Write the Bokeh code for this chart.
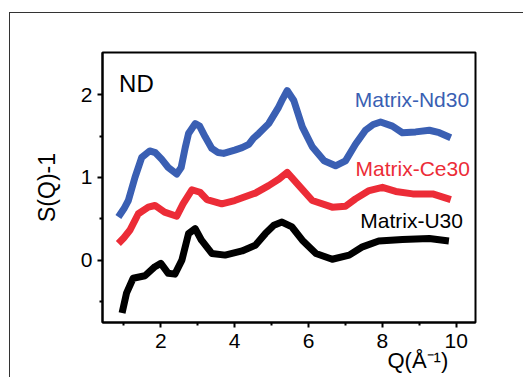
from bokeh.plotting import figure
from bokeh.models import Range1d, FixedTicker, Label, LinearAxis, InlineStyleSheet
from bokeh.embed import file_html
from bokeh.resources import INLINE

# Matrix-Nd30 (blue)
q_nd = [0.85, 1.0, 1.12, 1.3, 1.48, 1.7, 1.85, 2.02, 2.2, 2.43, 2.55, 2.66, 2.75, 2.93, 3.05,
        3.2, 3.38, 3.55, 3.7, 4.0, 4.2, 4.38, 4.5, 4.65, 4.92, 5.19, 5.3, 5.42, 5.6, 5.83,
        6.1, 6.42, 6.73, 7.0, 7.27, 7.54, 7.75, 7.95, 8.27, 8.54, 8.9, 9.27, 9.54, 9.85]
s_nd = [0.52, 0.62, 0.72, 1.0, 1.24, 1.32, 1.30, 1.22, 1.12, 1.04, 1.12, 1.36, 1.53, 1.65, 1.62,
        1.49, 1.35, 1.30, 1.29, 1.33, 1.36, 1.40, 1.47, 1.53, 1.65, 1.85, 1.95, 2.05, 1.93, 1.61,
        1.37, 1.20, 1.14, 1.20, 1.40, 1.57, 1.64, 1.67, 1.62, 1.54, 1.55, 1.57, 1.54, 1.48]

# Matrix-Ce30 (red)
q_ce = [0.85, 1.0, 1.16, 1.39, 1.66, 1.84, 2.1, 2.43, 2.6, 2.84, 3.06, 3.25, 3.65, 4.0, 4.56,
        4.92, 5.2, 5.42, 5.74, 6.1, 6.64, 7.0, 7.27, 7.64, 8.0, 8.36, 8.82, 9.36, 9.85]
s_ce = [0.20, 0.27, 0.36, 0.56, 0.64, 0.66, 0.58, 0.53, 0.68, 0.85, 0.82, 0.73, 0.68, 0.72, 0.81,
        0.90, 0.98, 1.06, 0.90, 0.72, 0.64, 0.65, 0.74, 0.84, 0.88, 0.83, 0.80, 0.80, 0.73]

# Matrix-U30 (black)
q_u = [0.95, 1.07, 1.25, 1.57, 1.84, 2.0, 2.2, 2.38, 2.57, 2.75, 2.93, 3.1, 3.38, 3.74, 4.2,
       4.56, 4.83, 5.06, 5.28, 5.55, 5.83, 6.2, 6.64, 7.1, 7.46, 7.9, 8.54, 9.27, 9.8]
s_u = [-0.64, -0.40, -0.22, -0.19, -0.08, -0.04, -0.16, -0.17, 0.0, 0.32, 0.38, 0.24, 0.08, 0.06, 0.11,
       0.18, 0.32, 0.42, 0.46, 0.40, 0.24, 0.08, 0.01, 0.06, 0.16, 0.23, 0.25, 0.26, 0.23]

x_major = [2, 4, 6, 8, 10]
x_minor = [1, 3, 5, 7, 9]
y_major = [0, 1, 2]
y_minor = [-0.5, 0.5, 1.5]
x_title = "Q(Å⁻¹)"
x_title_at = 8.96
y_title = "S(Q)-1"

FONT = "Liberation Sans"
BLUE = "#3A5FB3"
RED = "#EC2C37"
BLACK = "#000000"

p = figure(width=527, height=379, output_backend="svg", toolbar_location=None,
           x_range=Range1d(0.42, 10.52), y_range=Range1d(-0.755, 2.51),
           min_border_left=102, min_border_right=52, min_border_top=52, min_border_bottom=57)
p.xgrid.visible = False
p.ygrid.visible = False
p.outline_line_color = "black"
p.outline_line_width = 2
p.background_fill_color = "white"
p.border_fill_color = "white"

for ax, maj, mnr in ((p.xaxis[0], x_major, x_minor), (p.yaxis[0], y_major, y_minor)):
    ax.ticker = FixedTicker(ticks=maj, minor_ticks=mnr)
    ax.axis_line_width = 2
    ax.axis_line_color = "black"
    ax.major_tick_line_width = 2
    ax.minor_tick_line_width = 2
    ax.major_tick_out = 5
    ax.major_tick_in = 0
    ax.minor_tick_out = 3
    ax.minor_tick_in = 0
    ax.major_label_text_font = FONT
    ax.major_label_text_font_size = "21px"
    ax.major_label_text_color = "black"
p.xaxis.major_label_standoff = 6
p.yaxis.major_label_standoff = 5

p.yaxis.axis_label = y_title
p.yaxis.axis_label_text_font = FONT
p.yaxis.axis_label_text_font_size = "23px"
p.yaxis.axis_label_text_font_style = "normal"
p.yaxis.axis_label_text_color = "black"
p.yaxis.axis_label_standoff = 18

# x title drawn as the single label of a bare second axis below the first
xt = LinearAxis(ticker=FixedTicker(ticks=[x_title_at]),
                major_label_overrides={x_title_at: x_title},
                axis_line_alpha=0, major_tick_line_alpha=0, minor_tick_line_alpha=0,
                major_tick_out=0, major_tick_in=0, minor_tick_out=0, minor_tick_in=0,
                major_label_standoff=-3,
                major_label_text_font=FONT, major_label_text_font_size="22px",
                major_label_text_color="black")
p.add_layout(xt, "below")

for q, s, c in ((q_u, s_u, BLACK), (q_ce, s_ce, RED), (q_nd, s_nd, BLUE)):
    p.line(q, s, line_color=c, line_width=7, line_join="round")

def lab(text, x, y, color="black", size="21px"):
    p.add_layout(Label(text=text, x=x, y=y, text_color=color, text_font=FONT,
                       text_font_size=size, text_baseline="middle"))

lab("ND", 0.87, 2.13, size="24px")
lab("Matrix-Nd30", 7.25, 1.94, color=BLUE)
lab("Matrix-Ce30", 7.27, 1.11, color=RED)
lab("Matrix-U30", 7.40, 0.48, color=BLACK)

# outer frame of the figure panel (left and top edges visible)
p.stylesheets = [InlineStyleSheet(css=(
    ":host::after { content: ''; position: absolute; left: 9px; top: 12px; "
    "width: 513px; height: 364px; border-left: 1.5px solid #333; "
    "border-top: 1.5px solid #333; pointer-events: none; z-index: 5; }"))]

open("out.html", "w").write(file_html(p, INLINE))
